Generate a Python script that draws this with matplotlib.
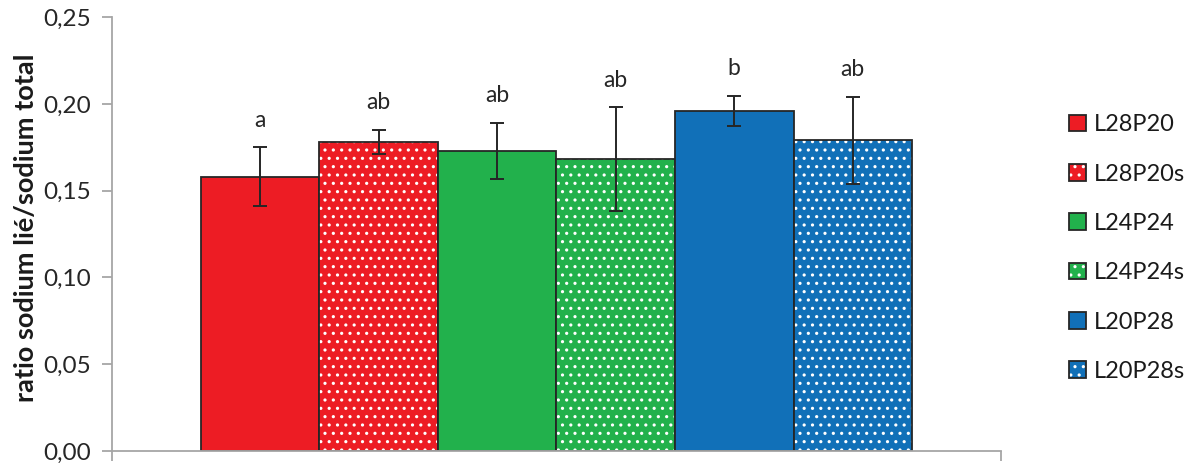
import matplotlib
matplotlib.use("Agg")
import matplotlib.pyplot as plt
from matplotlib.patches import Patch
from matplotlib.legend_handler import HandlerTuple

plt.rcParams['font.family'] = ['Lato', 'DejaVu Sans']
plt.rcParams['hatch.linewidth'] = 1.1

# data
groups = ['L28P20', 'L28P20s', 'L24P24', 'L24P24s', 'L20P28', 'L20P28s']
ratio = [0.158, 0.178, 0.173, 0.168, 0.196, 0.179]
err = [0.017, 0.007, 0.016, 0.030, 0.0085, 0.025]
letters = ['a', 'ab', 'ab', 'ab', 'b', 'ab']
colors = ['#ED1C24', '#ED1C24', '#22B14C', '#22B14C', '#1170B8', '#1170B8']
dotted = [False, True, False, True, False, True]

fig = plt.figure(figsize=(11.98, 4.63), dpi=100)
ax = fig.add_axes([0.0935, 0.026, 0.742, 0.937])

edge = '#262626'
handles = []
for i, g in enumerate(groups):
    if dotted[i]:
        # fill + white dots, then outline on top
        ax.bar(i, ratio[i], width=1.0, color=colors[i], edgecolor='white', hatch='..', linewidth=0)
        ax.bar(i, ratio[i], width=1.0, fill=False, edgecolor=edge, linewidth=1.3)
        h = (Patch(facecolor=colors[i], edgecolor='white', hatch='..', linewidth=0),
             Patch(fill=False, edgecolor=edge, linewidth=1.3))
    else:
        ax.bar(i, ratio[i], width=1.0, color=colors[i], edgecolor=edge, linewidth=1.3)
        h = (Patch(facecolor=colors[i], edgecolor=edge, linewidth=1.3),)
    handles.append(h)

ax.errorbar(range(len(groups)), ratio, yerr=err, fmt='none', ecolor='#262626',
            elinewidth=1.4, capsize=5, capthick=1.4)

for i, t in enumerate(letters):
    ax.annotate(t, (i, ratio[i] + err[i]), xytext=(0, 12), textcoords='offset points',
                ha='center', va='bottom', fontsize=16.5, color='#262626')

ax.set_xlim(-1.25, len(groups) + 0.25)
ax.set_ylim(0, 0.25)
ax.set_yticks([0, 0.05, 0.10, 0.15, 0.20, 0.25])
ax.set_yticklabels(['0,00', '0,05', '0,10', '0,15', '0,20', '0,25'], fontsize=17.5, color='#262626')
ax.set_xticks([-1.25, len(groups) + 0.25])
ax.set_xticklabels([])
for s in ['top', 'right']:
    ax.spines[s].set_visible(False)
for s in ['left', 'bottom']:
    ax.spines[s].set_color('#A6A6A6')
    ax.spines[s].set_linewidth(1.3)
ax.tick_params(axis='both', direction='out', length=7, width=1.3, color='#A6A6A6', pad=8)
ax.set_ylabel('ratio sodium lié/sodium total', fontsize=19.5, fontweight='bold', color='#1a1a1a')
ax.yaxis.set_label_coords(-0.083, 0.514)

fig.legend(handles, groups, handler_map={tuple: HandlerTuple(ndivide=1, pad=0)},
           loc='center left', bbox_to_anchor=(0.892, 0.464), frameon=False, fontsize=17,
           borderpad=0, borderaxespad=0,
           handlelength=0.72, handleheight=0.72, handletextpad=0.35, labelspacing=1.2,
           labelcolor='#1a1a1a')

fig.savefig('out.png', dpi=100)
